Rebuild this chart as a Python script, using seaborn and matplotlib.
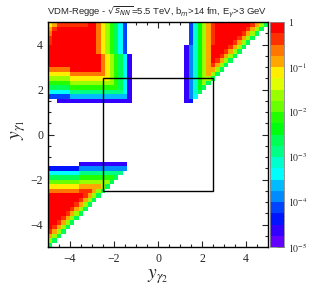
import colorsys

import numpy as np
import pandas as pd
import matplotlib
matplotlib.use("Agg")
import matplotlib.pyplot as plt
from matplotlib.colors import ListedColormap, LogNorm
from matplotlib.patches import Rectangle
import seaborn as sns

# 50 x 50 bins of 0.2 in both photon rapidities
y_edges = np.linspace(-5, 5, 51)

# contour band read off for each bin ('.' = empty, '0' lowest .. 'j' highest band)
# each band is a quarter decade between 1e-5 and 1
LEVELS = "0123456789abcdefghij"

# rows y_gamma1 = 4.9 .. 1.5, columns y_gamma2 = -4.9 .. -1.3
top_left = [
    "fgiiiiiiijjhfdb963.",
    "gijjjjjjjjjhfdb963.",
    "hjjjjjjjjjjhfdb963.",
    "ijjjjjjjjjjhfdb963.",
    "ijjjjjjjjjjhfdb963.",
    "jjjjjjjjjjjhfdb963.",
    "jjjjjjjjjjjhfdb963.",
    "jjjjjjjjjjjjhfdb961",
    "jjjjjjjjjjjjhfdb961",
    "jjjjjjjjjjjjhfdb961",
    "hhhhhjjjjjjjhfdb961",
    "fffffhhhhhhhhfdb961",
    "dddddfffffffffdb961",
    "bbbbbddddddddddb961",
    "99999bbbbbbbbbbb961",
    "6666688888888888861",
    "3333355555555555551",
    "..11111111111111111",
]

# rows y_gamma1 = 4.9 .. 1.5, columns y_gamma2 = 1.3 .. 4.9
top_right = [
    ".37adgijjjjjjjjigd9",
    ".37adgijjjjjjjigd9.",
    ".37adgijjjjjjigd9..",
    ".37adgijjjjjigd9...",
    ".37adgijjjjigd9....",
    "147adgjjjjigd9.....",
    "147adgjjjigd9......",
    "147adgjjigd9.......",
    "147adgjigd9........",
    "147adgigd9.........",
    "147adggd9..........",
    "147adgd9...........",
    "147add9............",
    "147ad9.............",
    "147a9..............",
    "1479...............",
    "146................",
    "12.................",
]

# rows y_gamma1 = -1.3 .. -4.9, columns y_gamma2 = -4.9 .. -1.3
bottom_left = [
    ".......11111111111.",
    "222222244444444444.",
    "66666668888888888..",
    "9999999bbbbbbbb9...",
    "cccccccddddddd9....",
    "fffffffgggggd9.....",
    "hhhhhhhiiigd9......",
    "jjjjjjjjigd9.......",
    "jjjjjjjigd9........",
    "jjjjjjigd9.........",
    "jjjjjigd9..........",
    "jjjjigd9...........",
    "jjjigd9............",
    "jjigd9.............",
    "jigd9..............",
    "igd9...............",
    "gd9................",
    "d9.................",
    "9..................",
]

tick_vals = [-4, -2, 0, 2, 4]
minor_vals = [-4.5, -3.5, -3, -2.5, -1.5, -1, -0.5, 0.5, 1, 1.5, 2.5, 3, 3.5, 4.5]
box_lo, box_hi = -2.5, 2.5
cbar_ticks = [1e-5, 1e-4, 1e-3, 1e-2, 1e-1, 1]
cbar_labels = ["$10^{-5}$", "$10^{-4}$", "$10^{-3}$", "$10^{-2}$", "$10^{-1}$", "1"]

grid = np.full((50, 50), np.nan)


def put(block, row0, col0):
    for i, row in enumerate(block):
        for j, ch in enumerate(row):
            if ch != ".":
                grid[row0 + i, col0 + j] = 10 ** (-5 + (LEVELS.index(ch) + 0.5) * 0.25)


put(top_left, 0, 0)
put(top_right, 0, 31)
put(bottom_left, 31, 0)

centers = (y_edges[:-1] + y_edges[1:]) / 2
df = pd.DataFrame(grid, index=centers[::-1].round(1), columns=centers.round(1))

# ROOT "pretty" palette, 20 contours picked from 50 colours
root_idx = [int((k + 0.99) * 50 / 20) for k in range(20)]
colors = [colorsys.hls_to_rgb(((280 - (i + 1) * 5.6) % 360) / 360, 0.5, 1.0) for i in root_idx]
cmap = ListedColormap(colors)

sns.set_style("ticks")
plt.rcParams["font.family"] = ["Liberation Serif", "DejaVu Serif"]
plt.rcParams["mathtext.fontset"] = "stix"

fig = plt.figure(figsize=(3.16, 3.02), dpi=100)
ax = fig.add_axes([48 / 316, 1 - 247 / 302, 220 / 316, 225 / 302])
cax = fig.add_axes([270 / 316, 1 - 247 / 302, 14 / 316, 225 / 302])

sns.heatmap(df, ax=ax, cbar_ax=cax, cmap=cmap, norm=LogNorm(vmin=1e-5, vmax=1),
            xticklabels=False, yticklabels=False)

idx = np.arange(51)


def xpos(v):
    return np.interp(v, y_edges, idx)


def ypos(v):
    return np.interp(v, y_edges, idx[::-1])


fmt = [f"{v:g}".replace("-", "\u2212") for v in tick_vals]
ax.set_xticks(xpos(tick_vals))
ax.set_xticklabels(fmt)
ax.set_xticks(xpos(minor_vals), minor=True)
ax.set_yticks(ypos(tick_vals))
ax.set_yticklabels(fmt)
ax.set_yticks(ypos(minor_vals), minor=True)
ax.tick_params(which="both", direction="in", top=True, right=True, labelsize=8.5, width=0.8)
ax.tick_params(which="major", length=4.5)
ax.tick_params(which="minor", length=2.5)
ax.tick_params(axis="x", pad=4)
ax.tick_params(axis="y", pad=3.5)
for s in ax.spines.values():
    s.set_visible(True)
    s.set_linewidth(1)
    s.set_color("black")

ax.add_patch(Rectangle((xpos(box_lo), ypos(box_hi)), xpos(box_hi) - xpos(box_lo),
                       ypos(box_lo) - ypos(box_hi), fill=False, edgecolor="black", linewidth=1))

ax.set_xlabel(r"$y_{\gamma_{2}}$", fontsize=14)
ax.xaxis.set_label_coords(0.5, -0.09)
ax.set_ylabel(r"$y_{\gamma_{1}}$", fontsize=14)
ax.yaxis.set_label_coords(-0.09, 0.52)

cb = ax.collections[0].colorbar
cb.set_ticks(cbar_ticks)
cb.set_ticklabels(cbar_labels)
cb.ax.tick_params(which="both", direction="in", labelsize=7, pad=3, width=0.6)
cb.ax.tick_params(which="major", length=5)
cb.ax.tick_params(which="minor", length=2.5)
cb.outline.set_linewidth(0.6)
cb.outline.set_edgecolor("#888888")

fig.text(157 / 316, 1 - 12 / 302,
         r"VDM-Regge - $\sqrt{s_{NN}}$=5.5 TeV, b$_{m}$>14 fm, E$_{\gamma}$>3 GeV",
         ha="center", va="center", fontsize=6.8, family="Liberation Sans",
         math_fontfamily="dejavusans")

fig.savefig("out.png", dpi=100)
